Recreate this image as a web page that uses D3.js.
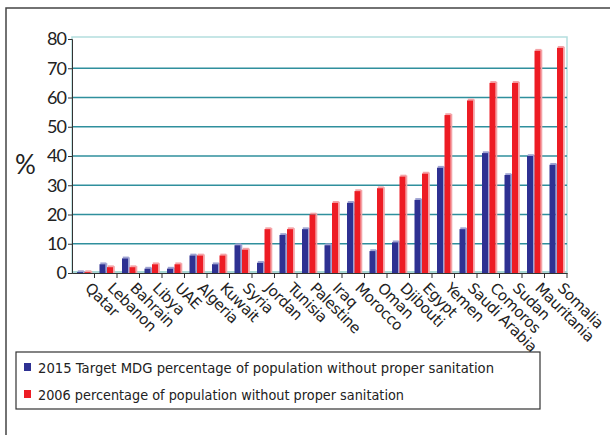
<!DOCTYPE html>
<html>
<head>
<meta charset="utf-8">
<script src="https://cdn.jsdelivr.net/npm/d3@7"></script>
<style>
  body { margin: 0; background: #fff; overflow: hidden; }
  svg { display: block; }
  text { font-family: "Lato", "DejaVu Sans", sans-serif; fill: #222; }
</style>
</head>
<body>
<div id="chart"></div>
<script>
// data
var countries = ["Qatar", "Lebanon", "Bahrain", "Libya", "UAE", "Algeria", "Kuwait", "Syria",
  "Jordan", "Tunisia", "Palestine", "Iraq", "Morocco", "Oman", "Djibouti", "Egypt", "Yemen",
  "Saudi Arabia", "Comoros", "Sudan", "Mauritania", "Somalia"];
var target2015 = [0.3, 3, 5, 1.5, 1.5, 6, 3, 9.5, 3.5, 13, 15, 9.5, 24, 7.5, 10.5, 25, 36, 15, 41, 33.5, 40, 37];
var pct2006 = [0.3, 2, 2, 3, 3, 6, 6, 8, 15, 15, 20, 24, 28, 29, 33, 34, 54, 59, 65, 65, 76, 77];
var yTicks = [0, 10, 20, 30, 40, 50, 60, 70, 80];
var legendLabels = ["2015 Target MDG percentage of  population without proper sanitation",
  "2006 percentage of population without proper sanitation"];

var svgWidth = 610;
var svgHeight = 435;

var margin = { top: 39, right: 43, bottom: 162, left: 72 };
var chartWidth = svgWidth - margin.left - margin.right;
var chartHeight = svgHeight - margin.top - margin.bottom;

var svg = d3.select("#chart")
  .append("svg")
  .attr("width", svgWidth)
  .attr("height", svgHeight);

// outer frame (only top and left edges are inside the picture)
svg.append("path")
  .attr("d", "M6,440 V8 H620")
  .attr("fill", "none")
  .attr("stroke", "#444")
  .attr("stroke-width", 1.5);

var chartGroup = svg.append("g")
  .attr("transform", `translate(${margin.left}, ${margin.top})`);

var x = d3.scaleBand()
  .domain(countries)
  .range([0, chartWidth]);

var y = d3.scaleLinear()
  .domain([0, 80])
  .range([chartHeight, 0]);

// wall border
chartGroup.append("rect")
  .attr("x", 0).attr("y", -2)
  .attr("width", chartWidth).attr("height", chartHeight + 2)
  .attr("fill", "none")
  .attr("stroke", "#b4dede")
  .attr("stroke-width", 1.5);

// gridlines
chartGroup.selectAll(".grid")
  .data(yTicks.filter(d => d > 0 && d < 80))
  .enter()
  .append("line")
  .attr("x1", 0).attr("x2", chartWidth)
  .attr("y1", d => y(d)).attr("y2", d => y(d))
  .attr("stroke", "#2f8f9d")
  .attr("stroke-width", 1.5);

// floor
chartGroup.append("rect")
  .attr("x", 0).attr("y", chartHeight - 2)
  .attr("width", chartWidth).attr("height", 3)
  .attr("fill", "#a8d8d4");

// bars with a small 3D look
var series = [
  { values: target2015, offset: 5, fill: "#2e3192", side: "#9ea2d2" },
  { values: pct2006, offset: 12.5, fill: "#ed1c24", side: "#f4a2a6" }
];
var barW = 6;

series.forEach(function(s) {
  var g = chartGroup.append("g");
  var data = countries.map((c, i) => ({ c: c, v: s.values[i] }));

  g.selectAll(".side")
    .data(data)
    .enter()
    .append("rect")
    .attr("x", d => x(d.c) + s.offset + barW)
    .attr("y", d => y(d.v) - 1)
    .attr("width", 1.8)
    .attr("height", d => chartHeight - y(d.v) + 1)
    .attr("fill", s.side);

  g.selectAll(".cap")
    .data(data)
    .enter()
    .append("rect")
    .attr("x", d => x(d.c) + s.offset + 0.8)
    .attr("y", d => y(d.v) - 1.8)
    .attr("width", barW)
    .attr("height", 1.8)
    .attr("fill", s.side);

  g.selectAll(".bar")
    .data(data)
    .enter()
    .append("rect")
    .attr("x", d => x(d.c) + s.offset)
    .attr("y", d => y(d.v))
    .attr("width", barW)
    .attr("height", d => chartHeight - y(d.v))
    .attr("fill", s.fill);
});

// y axis
var leftAxis = d3.axisLeft(y).tickValues(yTicks).tickSize(4).tickPadding(2);
var yAxisG = chartGroup.append("g").call(leftAxis);
yAxisG.select(".domain").attr("stroke", "#333");
yAxisG.selectAll(".tick line").attr("stroke", "#333");
yAxisG.selectAll("text")
  .style("font-size", "18px")
  .style("letter-spacing", "-1px")
  .attr("fill", "#222");

// x axis
var bottomAxis = d3.axisBottom(x).tickSize(0).tickFormat("");
var xAxisG = chartGroup.append("g")
  .attr("transform", `translate(0, ${chartHeight})`)
  .call(bottomAxis);
xAxisG.select(".domain").attr("stroke", "#333");

chartGroup.selectAll(".xtick")
  .data(countries.map(c => x(c)).concat([chartWidth]).slice(1))
  .enter()
  .append("line")
  .attr("x1", d => d).attr("x2", d => d)
  .attr("y1", chartHeight).attr("y2", chartHeight + 5)
  .attr("stroke", "#333");

chartGroup.selectAll(".xlabel")
  .data(countries)
  .enter()
  .append("text")
  .attr("transform", d => `translate(${x(d) + x.bandwidth() / 2 + 1}, ${chartHeight + 16}) rotate(45)`)
  .style("font-family", "'DejaVu Sans', sans-serif")
  .style("font-size", "15px")
  .style("letter-spacing", "-0.4px")
  .text(d => d);

// y label
svg.append("text")
  .attr("x", 15).attr("y", 174)
  .style("font-size", "26px")
  .text("%");

// legend
var legend = svg.append("g");
legend.append("rect")
  .attr("x", 16).attr("y", 352)
  .attr("width", 524).attr("height", 57)
  .attr("fill", "#fff")
  .attr("stroke", "#333")
  .attr("stroke-width", 1.2);

var legendColors = [series[0].fill, series[1].fill];
var legendWidths = [456, 366];
legendLabels.forEach(function(lbl, i) {
  legend.append("rect")
    .attr("x", 24).attr("y", 363 + i * 27)
    .attr("width", 7).attr("height", 8)
    .attr("fill", legendColors[i]);
  legend.append("text")
    .attr("x", 38).attr("y", 373 + i * 27)
    .attr("textLength", legendWidths[i])
    .attr("lengthAdjust", "spacingAndGlyphs")
    .style("font-family", "'DejaVu Sans', sans-serif")
    .style("font-size", "14px")
    .text(lbl);
});
</script>
</body>
</html>
